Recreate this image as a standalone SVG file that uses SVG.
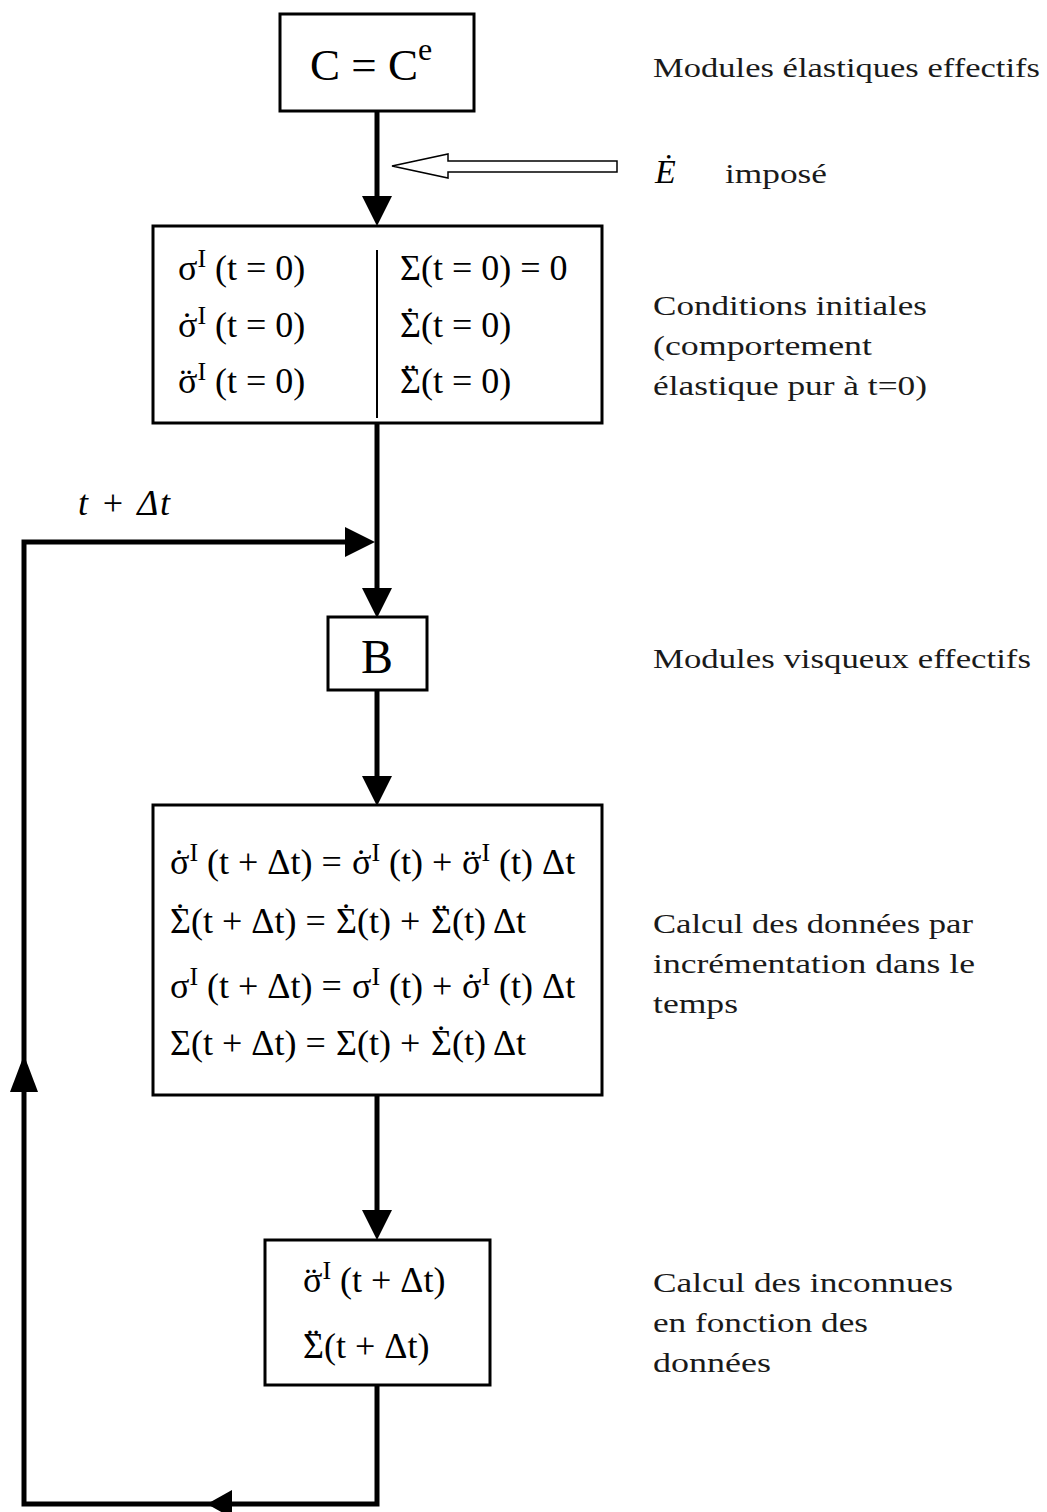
<svg xmlns="http://www.w3.org/2000/svg" width="1047" height="1512" viewBox="0 0 1047 1512">
<style>
.box{fill:#fff;stroke:#000;stroke-width:3}
.con{fill:none;stroke:#000;stroke-width:5}
.eq{font-family:"Liberation Serif",serif;font-size:36px;fill:#000}
.sup{font-size:26px}
.dt{font-family:"Liberation Serif",serif;font-size:36px;fill:#000;text-anchor:middle}
.lbl{font-family:"Liberation Serif",serif;font-size:27px;fill:#1a1a1a}
</style>
<defs>
<marker id="ah" viewBox="0 -15 30 30" refX="0" refY="0" markerWidth="30" markerHeight="30" markerUnits="userSpaceOnUse" orient="auto">
<path d="M0,-15 L30,0 L0,15 z" fill="#000"/>
</marker>
</defs>
<rect width="1047" height="1512" fill="#fff"/>
<g id="connectors">
<line class="con" x1="377" y1="111" x2="377" y2="196" marker-end="url(#ah)"/>
<line class="con" x1="377" y1="423" x2="377" y2="588" marker-end="url(#ah)"/>
<line class="con" x1="377" y1="690" x2="377" y2="776" marker-end="url(#ah)"/>
<line class="con" x1="377" y1="1095" x2="377" y2="1210" marker-end="url(#ah)"/>
<path class="con" d="M377,1385 V1504 H24 V542 H345" marker-end="url(#ah)"/>
<polygon points="207,1504 232,1490 232,1518" fill="#000"/>
<polygon points="24,1055 10,1092 38,1092" fill="#000"/>
<polygon points="392,166 448,154 448,161 617,161 617,172 448,172 448,178" fill="#fff" stroke="#000" stroke-width="1.5"/>
</g>
<g id="n-ce">
<rect class="box" x="280" y="14" width="194" height="97"/>
<text class="eq" x="310" y="80" style="font-size:45px">C = C<tspan style="font-size:32px" dy="-20">e</tspan></text>
</g>
<g id="n-init">
<rect class="box" x="153" y="226" width="449" height="197"/>
<line x1="377" y1="250" x2="377" y2="418" stroke="#000" stroke-width="2"/>
<text class="eq" x="178" y="280">σ<tspan class="sup" dy="-13">I</tspan><tspan dy="13"> (t = 0)</tspan></text>
<text class="eq" x="178" y="337">σ<tspan class="sup" dy="-13">I</tspan><tspan dy="13"> (t = 0)</tspan></text>
<text class="eq" x="178" y="393">σ<tspan class="sup" dy="-13">I</tspan><tspan dy="13"> (t = 0)</tspan></text>
<text class="eq" x="400" y="280">Σ(t = 0) = 0</text>
<text class="eq" x="400" y="337">Σ(t = 0)</text>
<text class="eq" x="400" y="393">Σ(t = 0)</text>
<text class="dt" x="187" y="337">˙</text>
<text class="dt" x="186" y="393">¨</text>
<text class="dt" x="410" y="332">˙</text>
<text class="dt" x="410" y="388">¨</text>
</g>
<g id="n-b">
<rect class="box" x="328" y="617" width="99" height="73"/>
<text class="eq" x="377" y="673" text-anchor="middle" style="font-size:48px">B</text>
</g>
<g id="n-incr">
<rect class="box" x="153" y="805" width="449" height="290"/>
<text class="eq" y="874"><tspan x="170">σ</tspan><tspan class="sup" dy="-13">I</tspan><tspan dy="13"> (t + Δt) =</tspan><tspan x="352">σ</tspan><tspan class="sup" dy="-13">I</tspan><tspan dy="13"> (t) +</tspan><tspan x="462">σ</tspan><tspan class="sup" dy="-13">I</tspan><tspan dy="13"> (t) Δt</tspan></text>
<text class="dt" x="179" y="874">˙</text>
<text class="dt" x="361" y="874">˙</text>
<text class="dt" x="470" y="874">¨</text>
<text class="eq" y="933"><tspan x="170">Σ(t + Δt) =</tspan><tspan x="336">Σ(t) +</tspan><tspan x="431">Σ(t) Δt</tspan></text>
<text class="dt" x="180" y="928">˙</text>
<text class="dt" x="346" y="928">˙</text>
<text class="dt" x="441" y="928">¨</text>
<text class="eq" y="998"><tspan x="170">σ</tspan><tspan class="sup" dy="-13">I</tspan><tspan dy="13"> (t + Δt) =</tspan><tspan x="352">σ</tspan><tspan class="sup" dy="-13">I</tspan><tspan dy="13"> (t) +</tspan><tspan x="462">σ</tspan><tspan class="sup" dy="-13">I</tspan><tspan dy="13"> (t) Δt</tspan></text>
<text class="dt" x="471" y="998">˙</text>
<text class="eq" y="1055"><tspan x="170">Σ(t + Δt) =</tspan><tspan x="336">Σ(t) +</tspan><tspan x="431">Σ(t) Δt</tspan></text>
<text class="dt" x="441" y="1050">˙</text>
</g>
<g id="n-unk">
<rect class="box" x="265" y="1240" width="225" height="145"/>
<text class="eq" x="303" y="1292">σ<tspan class="sup" dy="-13">I</tspan><tspan dy="13"> (t + Δt)</tspan></text>
<text class="eq" x="303" y="1358">Σ(t + Δt)</text>
<text class="dt" x="311" y="1292">¨</text>
<text class="dt" x="313" y="1353">¨</text>
</g>
<g id="labels">
<text class="lbl" x="653" y="77" textLength="387" lengthAdjust="spacingAndGlyphs">Modules élastiques effectifs</text>
<text class="eq" x="655" y="183" style="font-style:italic;font-size:34px">Ė</text>
<text class="lbl" x="725" y="183" textLength="102" lengthAdjust="spacingAndGlyphs">imposé</text>
<text class="lbl" x="653" y="315" textLength="274" lengthAdjust="spacingAndGlyphs">Conditions initiales</text>
<text class="lbl" x="653" y="355" textLength="219" lengthAdjust="spacingAndGlyphs">(comportement</text>
<text class="lbl" x="653" y="395" textLength="274" lengthAdjust="spacingAndGlyphs">élastique pur à t=0)</text>
<text class="lbl" x="653" y="668" textLength="378" lengthAdjust="spacingAndGlyphs">Modules visqueux effectifs</text>
<text class="lbl" x="653" y="933" textLength="320" lengthAdjust="spacingAndGlyphs">Calcul des données par</text>
<text class="lbl" x="653" y="973" textLength="322" lengthAdjust="spacingAndGlyphs">incrémentation dans le</text>
<text class="lbl" x="653" y="1013" textLength="85" lengthAdjust="spacingAndGlyphs">temps</text>
<text class="lbl" x="653" y="1292" textLength="300" lengthAdjust="spacingAndGlyphs">Calcul des inconnues</text>
<text class="lbl" x="653" y="1332" textLength="215" lengthAdjust="spacingAndGlyphs">en fonction des</text>
<text class="lbl" x="653" y="1372" textLength="118" lengthAdjust="spacingAndGlyphs">données</text>
<text class="eq" x="78" y="515" style="font-style:italic" textLength="92" lengthAdjust="spacing">t + Δt</text>
</g>
</svg>
